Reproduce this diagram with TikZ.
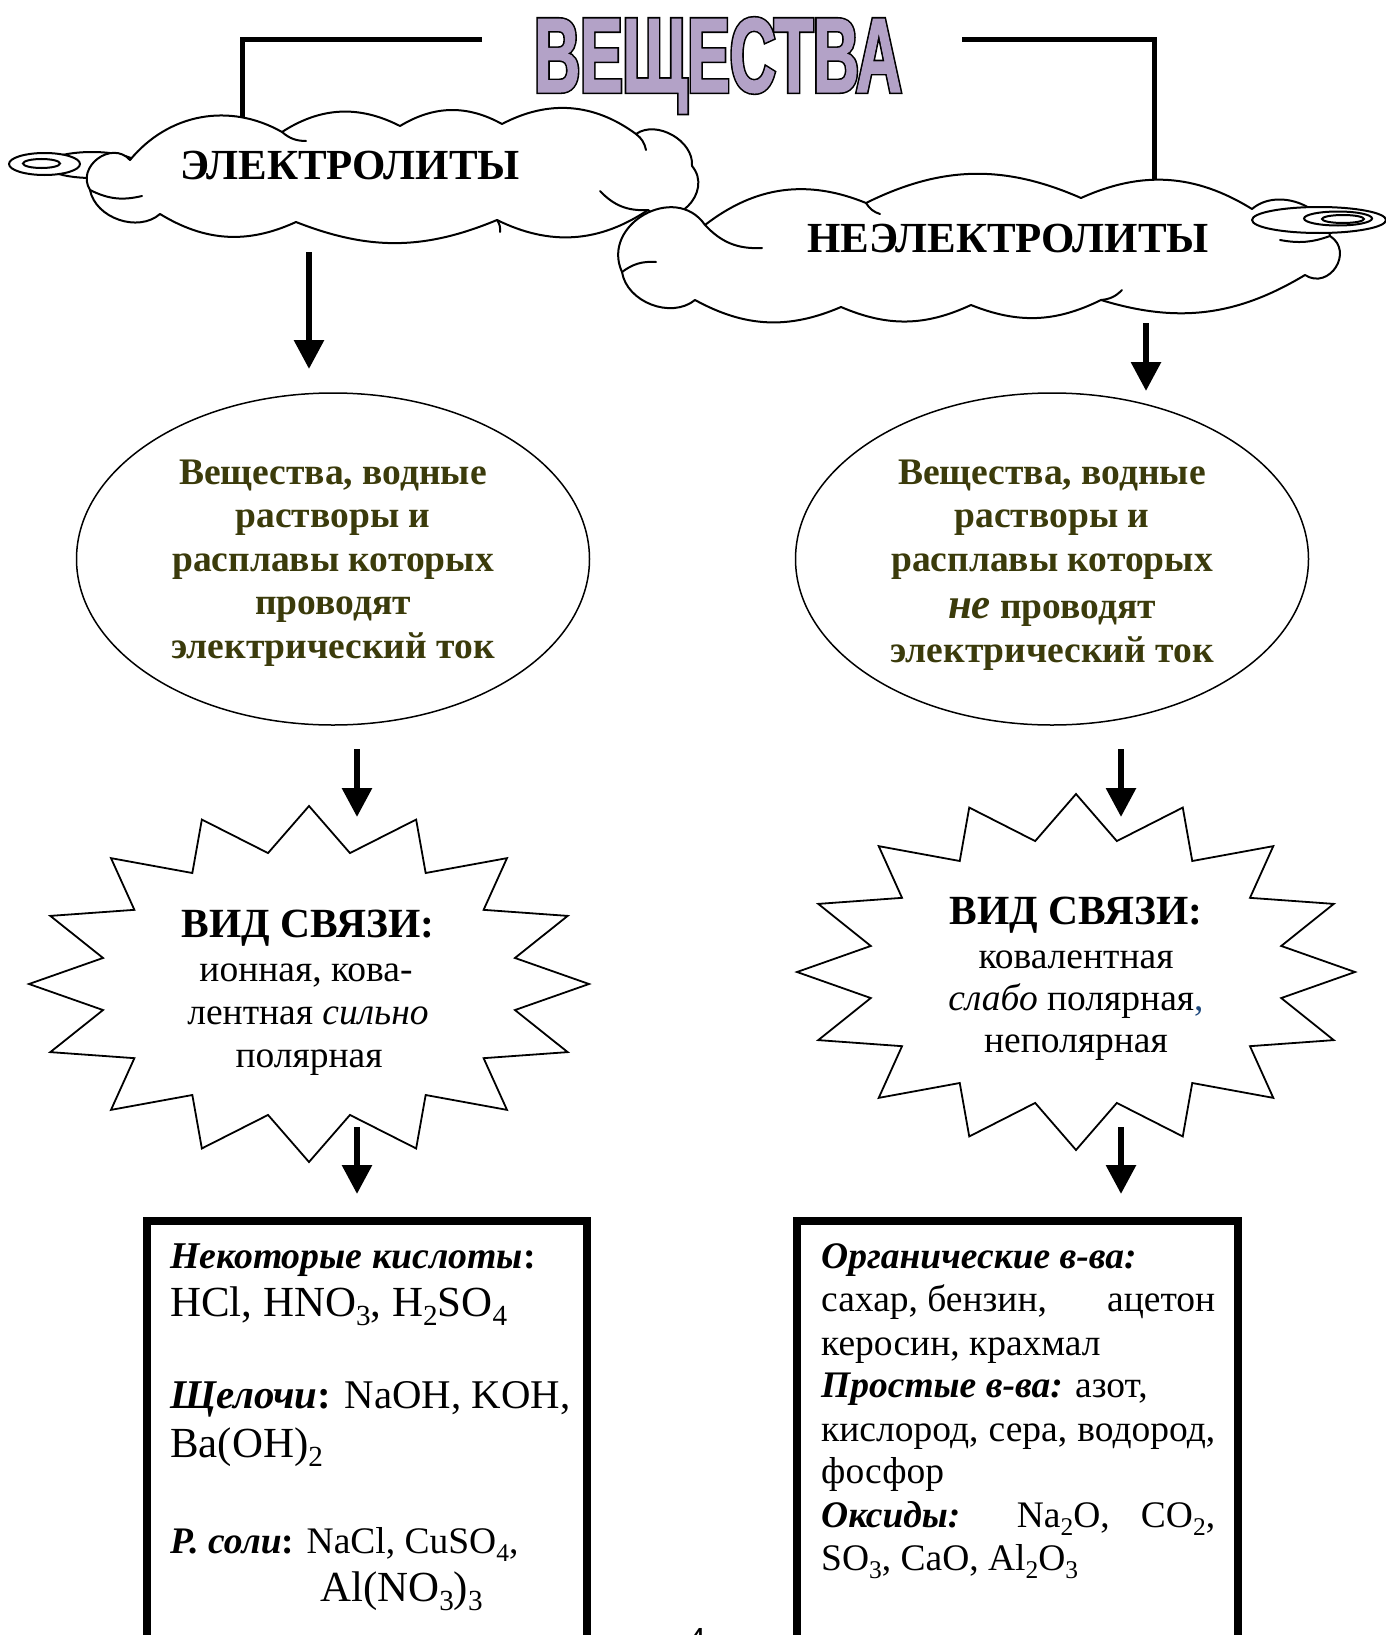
\documentclass[tikz,border=0pt]{standalone}
\usepackage{fontspec}
\usepackage{graphicx}
\setmainfont{Liberation Serif}
\newfontfamily\ttlfont{Liberation Sans}[FakeStretch=0.6,FakeBold=1]
\newfontfamily\ttlbackfont{Liberation Sans}[FakeStretch=0.6,FakeBold=4]
\newfontfamily\pgnumfont{Liberation Sans}
\usetikzlibrary{arrows.meta,shapes.geometric}
\definecolor{lav}{HTML}{B3A2C7}
\definecolor{olivetext}{HTML}{3B3B0B}
\definecolor{commablue}{HTML}{1F497D}
\newcommand\chs[1]{\raisebox{-0.22em}{\scalebox{0.68}{#1}}}
\newcommand\fsz[1]{\fontsize{#1}{#1}\selectfont}
\begin{document}
\begin{tikzpicture}[x=1pt,y=-1pt,
  bar/.style={line width=5pt},
  arr/.style={line width=6pt,-{Triangle[length=29pt,width=29pt]}},
  cloudline/.style={line width=2pt, fill=white, line join=round},
  innerline/.style={line width=2pt, line cap=round},
  starline/.style={line width=1.8pt, fill=white},
  boxline/.style={draw, line width=8pt, outer sep=0pt, inner sep=0pt, anchor=north west},
  ovalnode/.style={ellipse, draw, line width=1.5pt, fill=white, minimum width=513pt, minimum height=332pt, inner sep=0pt},
  ovaltext/.style={inner sep=0pt, align=center, text=olivetext, font=\bfseries\fontsize{37.5}{43.5}\selectfont},
  txt/.style={anchor=base, inner sep=0pt},
  txtl/.style={anchor=base west, inner sep=0pt}]
\useasboundingbox (0,0) rectangle (1386,1635);

% title
\node[txt, text=black, font=\ttlbackfont\bfseries\fontsize{106}{106}\selectfont] (titleback) at (718,92) {ВЕЩЕСТВА};
\node[txt, text=lav, font=\ttlfont\bfseries\fontsize{106}{106}\selectfont] (title) at (718,92) {ВЕЩЕСТВА};
\coordinate (tlL) at (482,40);
\coordinate (tlR) at (962,40);
\draw[bar] (tlL) -| (242,140);
\draw[bar] (tlR) -| (1154,215);

% cloud 1
\draw[cloudline] (92,165) ellipse [x radius=46, y radius=13];
\draw[cloudline] (44.5,164) ellipse [x radius=35.5, y radius=11];
\draw[line width=2pt] (41.5,163.5) ellipse [x radius=18.5, y radius=4.5];
\draw[cloudline] (130,160) to[bend left=40] (282,132) to[bend left=30] (400,126) to[bend left=30] (502,124)
  to[bend left=32] (636,134) to[bend left=65] (692,166) to[bend left=85, looseness=1.4] (648,210)
  to[bend left=30] (497,220) to[bend left=22] (296,222) to[bend left=28] (160,214)
  to[bend left=60] (90,190) to[bend left=85, looseness=1.4] (130,160) -- cycle;
\draw[innerline] (648,210) to[bend left=25] (600,191);
\draw[innerline] (282,132) to[bend right=20] (306,141);
\draw[innerline] (636,134) to[bend left=20] (646,150);
\draw[innerline] (90,190) to[bend right=20] (142,196);
\draw[innerline] (497,220) to[bend left=20] (500,232);
\node[font=\bfseries\fontsize{42.9}{42.9}\selectfont, inner sep=0pt] (t1) at (350,166) {ЭЛЕКТРОЛИТЫ};

% cloud 2
\draw[cloudline] (622,272) to[bend left=85, looseness=1.4] (705,225) to[bend left=30] (866,203)
  to[bend left=25] (1081,198) to[bend left=28] (1252,209) to[bend left=60] (1330,236)
  to[bend left=90, looseness=1.6] (1305,275) to[bend left=24] (1101,300) to[bend left=24] (971,305)
  to[bend left=24] (841,307) to[bend left=26] (695,300) to[bend left=60] (622,272) -- cycle;
\draw[innerline] (705,225) to[bend right=25] (762,248);
\draw[innerline] (622,272) to[bend left=20] (656,262);
\draw[innerline] (1101,300) to[bend right=20] (1122,290);
\draw[innerline] (866,203) to[bend right=20] (880,214);
\draw[cloudline] (1319,220) ellipse [x radius=67, y radius=13];
\draw[line width=2pt] (1338,218.5) ellipse [x radius=34, y radius=7];
\draw[line width=2pt] (1343,219) ellipse [x radius=21, y radius=4];
\draw[innerline] (1330,236) to[bend left=15] (1280,240);
\node[font=\bfseries\fontsize{42.9}{42.9}\selectfont, inner sep=0pt] (t2) at (1008,239) {НЕЭЛЕКТРОЛИТЫ};

% ellipses
\node[ovalnode] (e1) at (333,559) {};
\node[ovaltext] (e1t) at (333,563) {Вещества, водные\\растворы и\\расплавы которых\\проводят\\электрический ток};
\node[ovalnode] (e2) at (1052,559) {};
\node[ovaltext] (e2t) at (1052,565) {Вещества, водные\\растворы и\\расплавы которых\\[4pt]{\itshape\fontsize{42.9}{43.5}\selectfont не} проводят\\электрический ток};

% stars
\draw[starline] plot[samples at={0,1,...,31}, variable=\k] ({309+(1-0.25*mod(\k,2))*280*cos(90+11.25*\k)}, {984-(1-0.25*mod(\k,2))*178*sin(90+11.25*\k)}) -- cycle;
\draw[starline] plot[samples at={0,1,...,31}, variable=\k] ({1076+(1-0.25*mod(\k,2))*279*cos(90+11.25*\k)}, {972-(1-0.25*mod(\k,2))*178*sin(90+11.25*\k)}) -- cycle;

\node[txt, font=\bfseries\fsz{41.5}] (s1h) at (308,937) {ВИД СВЯЗИ:};
\node[txt, font=\fsz{37.5}] (s1a) at (306,981) {ионная, кова-};
\node[txt, font=\fsz{37.5}] (s1b) at (308,1024) {лентная \textit{сильно}};
\node[txt, font=\fsz{37.5}] (s1c) at (309,1067) {полярная};

\node[txt, font=\bfseries\fsz{41.5}] (s2h) at (1076,924) {ВИД СВЯЗИ:};
\node[txt, font=\fsz{37.5}] (s2a) at (1076,968) {ковалентная};
\node[txt, font=\fsz{37.5}] (s2b) at (1076,1010) {\textit{слабо} полярная\textcolor{commablue}{,}};
\node[txt, font=\fsz{37.5}] (s2c) at (1076,1052) {неполярная};

% arrows
\coordinate (a1s) at (309,252); \coordinate (a1e) at (309,369);
\coordinate (a2s) at (1146,323); \coordinate (a2e) at (1146,391);
\coordinate (a3s) at (357,749); \coordinate (a3e) at (357,817);
\coordinate (a4s) at (1121,749); \coordinate (a4e) at (1121,817);
\coordinate (a5s) at (357,1127); \coordinate (a5e) at (357,1194);
\coordinate (a6s) at (1121,1127); \coordinate (a6e) at (1121,1194);
\draw[arr] (a1s) -- (a1e);
\draw[arr] (a2s) -- (a2e);
\draw[arr] (a3s) -- (a3e);
\draw[arr] (a4s) -- (a4e);
\draw[arr] (a5s) -- (a5e);
\draw[arr] (a6s) -- (a6e);

% boxes
\node[boxline, minimum width=440pt, minimum height=480pt] (b1) at (147,1221) {};
\node[boxline, minimum width=441pt, minimum height=480pt] (b2) at (797,1221) {};

\node[txtl, font=\fsz{37.8}] (l1) at (170,1268) {{\bfseries\itshape Некоторые кислоты}\textbf{:}};
\node[txtl, font=\fsz{42.9}] (l2) at (170,1316) {HCl, HNO\chs{3}, H\chs{2}SO\chs{4}};
\node[txtl, font=\fsz{40.8}] (l3) at (170,1408) {{\bfseries\itshape Щелочи}\textbf{:} NaOH, KOH,};
\node[txtl, font=\fsz{42.9}] (l4) at (170,1457) {Ba(OH)\chs{2}};
\node[txtl, font=\fsz{37.5}] (l5) at (170,1553) {{\bfseries\itshape Р. соли}\textbf{:} NaCl, CuSO\chs{4},};
\node[txtl, font=\fsz{42.9}] (l6) at (320,1601) {Al(NO\chs{3})\chs{3}};

\node[txtl, font=\fsz{37.5}] (r1) at (821,1268) {{\bfseries\itshape Органические в-ва:}};
\node[txtl, font=\fsz{37.5}] (r2) at (821,1311) {\makebox[394pt][l]{сахар, бензин,\hfill ацетон}};
\node[txtl, font=\fsz{37.5}] (r3) at (821,1355) {керосин, крахмал};
\node[txtl, font=\fsz{37.5}] (r4) at (821,1397) {{\bfseries\itshape Простые в-ва:} азот,};
\node[txtl, font=\fsz{37.5}] (r5) at (821,1441) {\makebox[394pt][s]{кислород, сера, водород,}};
\node[txtl, font=\fsz{37.5}] (r6) at (821,1483) {фосфор};
\node[txtl, font=\fsz{37.5}] (r7) at (821,1527) {\makebox[394pt][s]{{\bfseries\itshape Оксиды:} Na\chs{2}O, CO\chs{2},}};
\node[txtl, font=\fsz{37.5}] (r8) at (821,1570) {SO\chs{3}, CaO, Al\chs{2}O\chs{3}};

\node[txt, font=\pgnumfont\fsz{32}] (pg) at (697,1650) {4};
\end{tikzpicture}
\end{document}
